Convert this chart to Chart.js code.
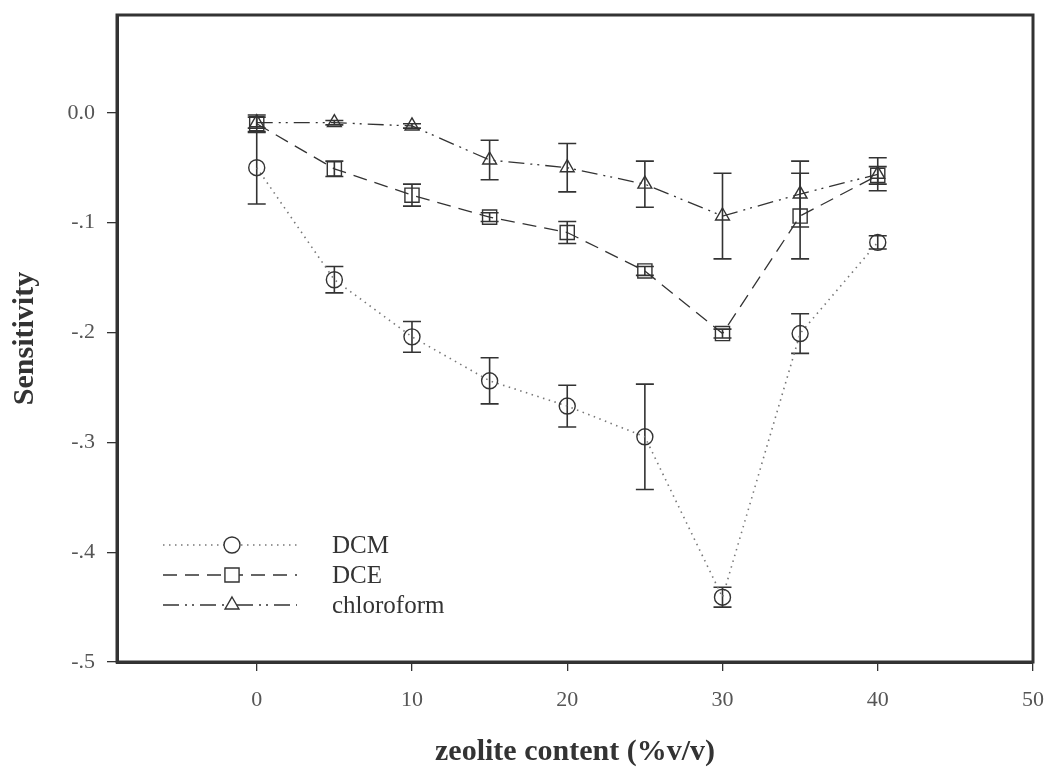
<!DOCTYPE html>
<html>
<head>
<meta charset="utf-8">
<script src="https://cdn.jsdelivr.net/npm/chart.js@4/dist/chart.umd.min.js"></script>
<style>
html,body{margin:0;padding:0;background:#fff;}
#wrap{width:1048px;height:771px;position:relative;}
</style>
</head>
<body>
<div id="wrap"><canvas id="c" width="1048" height="771"></canvas></div>
<script>
const xValues = [0, 5, 10, 15, 20, 25, 30, 35, 40];
const dcmValues = [-0.050, -0.152, -0.204, -0.244, -0.267, -0.295, -0.441, -0.201, -0.118];
const dcmErrors = [0.033, 0.012, 0.014, 0.021, 0.019, 0.048, 0.009, 0.018, 0.006];
const dceValues = [-0.010, -0.051, -0.075, -0.095, -0.109, -0.144, -0.201, -0.094, -0.057];
const dceErrors = [0.008, 0.007, 0.010, 0.004, 0.010, 0.004, 0.004, 0.039, 0.008];
const chlValues = [-0.009, -0.009, -0.012, -0.043, -0.050, -0.065, -0.094, -0.074, -0.056];
const chlErrors = [0.005, 0.002, 0.002, 0.018, 0.022, 0.021, 0.039, 0.030, 0.015];
const seriesNames = ['DCM', 'DCE', 'chloroform'];
const xTicks = [0, 10, 20, 30, 40, 50];
const yTicks = [0, -0.1, -0.2, -0.3, -0.4, -0.5];
const yTickLabels = ['0.0', '-.1', '-.2', '-.3', '-.4', '-.5'];

const INK = '#333';
const SERIF = '"Liberation Serif", "DejaVu Serif", serif';

function pts(vals, errs) {
  return xValues.map((x, i) => ({x: x, y: vals[i], e: errs[i]}));
}

const styles = [
  {dash: [1.5, 4.5], point: 'circle', r: 8, lineColor: '#777', lw: 1.6},
  {dash: [14, 8], point: 'rect', r: 10, lineColor: '#333', lw: 1.3},
  {dash: [16, 6, 2, 5, 2, 6], point: 'triangle', r: 8, lineColor: '#333', lw: 1.3}
];

const datasets = [
  [dcmValues, dcmErrors], [dceValues, dceErrors], [chlValues, chlErrors]
].map((d, i) => ({
  label: seriesNames[i],
  data: pts(d[0], d[1]),
  showLine: true,
  borderColor: styles[i].lineColor,
  borderWidth: styles[i].lw,
  borderDash: styles[i].dash,
  pointStyle: styles[i].point,
  pointRadius: styles[i].r,
  pointBorderColor: INK,
  pointBackgroundColor: 'rgba(0,0,0,0)',
  pointBorderWidth: 1.4,
  fill: false,
  tension: 0
}));

const errorBars = {
  id: 'errorBars',
  beforeDatasetsDraw(chart) {
    const ctx = chart.ctx;
    const xs = chart.scales.x, ys = chart.scales.y;
    ctx.save();
    ctx.strokeStyle = INK;
    ctx.lineWidth = 1.6;
    ctx.setLineDash([]);
    chart.data.datasets.forEach(ds => {
      ds.data.forEach(p => {
        const px = xs.getPixelForValue(p.x);
        const top = ys.getPixelForValue(p.y + p.e);
        const bot = ys.getPixelForValue(p.y - p.e);
        ctx.beginPath();
        ctx.moveTo(px, top); ctx.lineTo(px, bot);
        ctx.moveTo(px - 9, top); ctx.lineTo(px + 9, top);
        ctx.moveTo(px - 9, bot); ctx.lineTo(px + 9, bot);
        ctx.stroke();
      });
    });
    ctx.restore();
  },
  afterDraw(chart) {
    const ctx = chart.ctx;
    const a = chart.chartArea;
    ctx.save();
    ctx.strokeStyle = INK;
    ctx.lineWidth = 3;
    ctx.setLineDash([]);
    ctx.strokeRect(a.left, a.top, a.right - a.left, a.bottom - a.top);
    const rows = [545, 575, 605];
    const x0 = 163, x1 = 297, mx = 232;
    rows.forEach((y, i) => {
      const st = styles[i];
      ctx.strokeStyle = st.lineColor;
      ctx.lineWidth = st.lw;
      ctx.setLineDash(st.dash);
      ctx.beginPath();
      ctx.moveTo(x0, y); ctx.lineTo(x1, y);
      ctx.stroke();
      ctx.setLineDash([]);
      ctx.strokeStyle = INK;
      ctx.fillStyle = '#ffffff';
      ctx.lineWidth = 1.4;
      Chart.helpers.drawPoint(ctx, {pointStyle: st.point, radius: st.r, borderWidth: 1.4}, mx, y);
      ctx.fillStyle = '#333';
      ctx.font = '25px ' + SERIF;
      ctx.textBaseline = 'middle';
      ctx.textAlign = 'left';
      ctx.fillText(seriesNames[i], 332, y + 1);
    });
    ctx.restore();
  }
};

new Chart(document.getElementById('c'), {
  type: 'scatter',
  data: {datasets: datasets},
  options: {
    responsive: false,
    animation: false,
    devicePixelRatio: 1,
    layout: {padding: {left: 0, right: 15, top: 15, bottom: 0}},
    plugins: {legend: {display: false}, tooltip: {enabled: false}},
    scales: {
      x: {
        type: 'linear',
        min: -9, max: 50,
        afterBuildTicks: s => { s.ticks = xTicks.map(v => ({value: v})); },
        afterFit: s => { s.height = 771 - 662; s.paddingLeft = 0; s.paddingRight = 0; },
        grid: {drawOnChartArea: false, drawTicks: true, tickLength: 9, color: INK, lineWidth: 1.3},
        border: {display: true, color: INK, width: 3},
        ticks: {color: '#555', font: {family: SERIF, size: 22}, padding: 16, maxRotation: 0,
                callback: v => String(v)},
        title: {display: true, text: 'zeolite content (%v/v)', color: '#333',
                font: {family: SERIF, size: 30, weight: 'bold'}, padding: {top: 0, bottom: 1}}
      },
      y: {
        type: 'linear',
        min: -0.5, max: 0.089,
        afterBuildTicks: s => { s.ticks = yTicks.map(v => ({value: v})); },
        afterFit: s => { s.width = 117; s.paddingTop = 0; s.paddingBottom = 0; },
        grid: {drawOnChartArea: false, drawTicks: true, tickLength: 10, color: INK, lineWidth: 1.3},
        border: {display: true, color: INK, width: 3},
        ticks: {color: '#555', font: {family: SERIF, size: 22}, padding: 12,
                callback: (v) => { const i = yTicks.findIndex(t => Math.abs(t - v) < 1e-9); return i >= 0 ? yTickLabels[i] : ''; }},
        title: {display: true, text: 'Sensitivity', color: '#333',
                font: {family: SERIF, size: 30, weight: 'bold'}, padding: {top: 7, bottom: 0}}
      }
    }
  },
  plugins: [errorBars]
});
</script>
</body>
</html>
